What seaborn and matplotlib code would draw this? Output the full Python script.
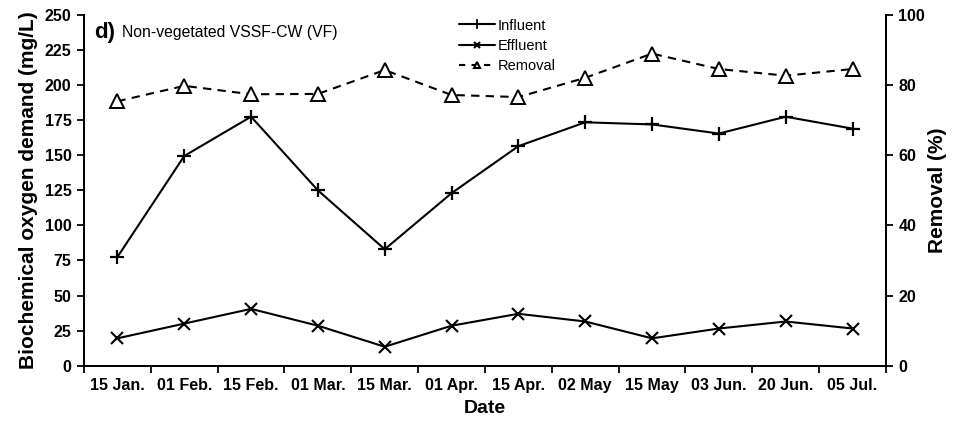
import numpy as np
import pandas as pd
import matplotlib
matplotlib.use("Agg")
import matplotlib.pyplot as plt
from matplotlib.lines import Line2D
import seaborn as sns

dates = ["15 Jan.", "01 Feb.", "15 Feb.", "01 Mar.", "15 Mar.", "01 Apr.",
         "15 Apr.", "02 May", "15 May", "03 Jun.", "20 Jun.", "05 Jul."]
influent = [77.5, 149.5, 177.5, 125, 83, 123, 156.5, 173.5, 172, 165.5, 177.5, 169]
effluent = [19.5, 30, 40.5, 28.5, 13.5, 28.5, 37, 31.5, 19.5, 26.5, 31.5, 26.5]
removal = [75.4, 79.8, 77.4, 77.5, 84.3, 77.2, 76.6, 82.1, 89.0, 84.6, 82.7, 84.6]
left_ticks = [0, 25, 50, 75, 100, 125, 150, 175, 200, 225, 250]
right_ticks = [0, 20, 40, 60, 80, 100]

sns.set_theme(style="white")
plt.rcParams['font.family'] = ['Liberation Sans', 'DejaVu Sans']
plt.rcParams['text.color'] = 'black'
plt.rcParams['axes.labelcolor'] = 'black'
plt.rcParams['xtick.color'] = 'black'
plt.rcParams['ytick.color'] = 'black'

df = pd.DataFrame({"pos": np.arange(len(dates)), "Date": dates,
                   "Influent": influent, "Effluent": effluent, "Removal": removal})

fig = plt.figure(figsize=(9.69, 4.23), dpi=100)
ax = fig.add_axes([0.0867, 0.1355, 0.8276, 0.829])
ax2 = ax.twinx()

lw = 1.5
sns.lineplot(data=df, x="pos", y="Influent", ax=ax, color="black", lw=lw,
             marker="+", markersize=9.5, markeredgewidth=1.6, markeredgecolor="black")
sns.lineplot(data=df, x="pos", y="Effluent", ax=ax, color="black", lw=lw,
             marker="x", markersize=9, markeredgewidth=1.5, markeredgecolor="black")
sns.lineplot(data=df, x="pos", y="Removal", ax=ax2, color="black", lw=lw,
             linestyle=(0, (4, 3)), marker="^", markersize=9.5, markeredgewidth=1.4,
             markerfacecolor="white", markeredgecolor="black")

tick_fs = 11.5
ax.set_xlim(-0.5, len(dates) - 0.5)
ax.set_ylim(0, 250)
ax2.set_ylim(0, 100)
ax.set_yticks(left_ticks)
ax.set_yticklabels([str(t) for t in left_ticks], fontsize=tick_fs, fontweight="bold")
ax2.set_yticks(right_ticks)
ax2.set_yticklabels([str(t) for t in right_ticks], fontsize=tick_fs, fontweight="bold")

ax.set_xticks(np.arange(len(dates)))
ax.set_xticklabels(dates, fontsize=tick_fs, fontweight="bold")
ax.set_xticks(np.arange(len(dates) + 1) - 0.5, minor=True)
ax.tick_params(axis="x", which="major", length=0, pad=9)
ax.tick_params(axis="x", which="minor", length=5, width=1.3, direction="out", color="black", bottom=True)
ax.tick_params(axis="y", length=5, width=1.3, direction="out", color="black", left=True, pad=4)
ax2.tick_params(axis="y", length=5, width=1.3, direction="out", color="black", right=True, pad=4)

ax.set_xlabel("Date", fontsize=14, fontweight="bold", labelpad=5)
ax.set_ylabel("Biochemical oxygen demand (mg/L)", fontsize=15, fontweight="bold", labelpad=5)
ax2.set_ylabel("Removal (%)", fontsize=15, fontweight="bold", labelpad=2)

for a in (ax, ax2):
    a.spines["top"].set_visible(False)
    for s in ("left", "right", "bottom"):
        a.spines[s].set_color("black")
        a.spines[s].set_linewidth(1.4)
ax.grid(False)
ax2.grid(False)

ax.text(0.012, 0.98, "d)", transform=ax.transAxes, fontsize=16, fontweight="bold",
        va="top", ha="left")
ax.text(0.047, 0.972, "Non-vegetated VSSF-CW (VF)", transform=ax.transAxes, fontsize=11.3,
        va="top", ha="left")

handles = [
    Line2D([], [], color="black", lw=lw, marker="+", markersize=7, markeredgewidth=1.3),
    Line2D([], [], color="black", lw=lw, marker="x", markersize=5, markeredgewidth=1.5),
    Line2D([], [], color="black", lw=lw, linestyle=(0, (3, 3)), marker="^", markersize=5,
           markerfacecolor="white", markeredgewidth=1.5),
]
leg = ax.legend(handles, ["Influent", "Effluent", "Removal"], loc="upper left",
                bbox_to_anchor=(0.4676, 0.99), frameon=False, fontsize=10.5,
                handlelength=2.5, handletextpad=0.15, labelspacing=0.42, borderaxespad=0,
                borderpad=0)

fig.savefig("out.png", dpi=100)
